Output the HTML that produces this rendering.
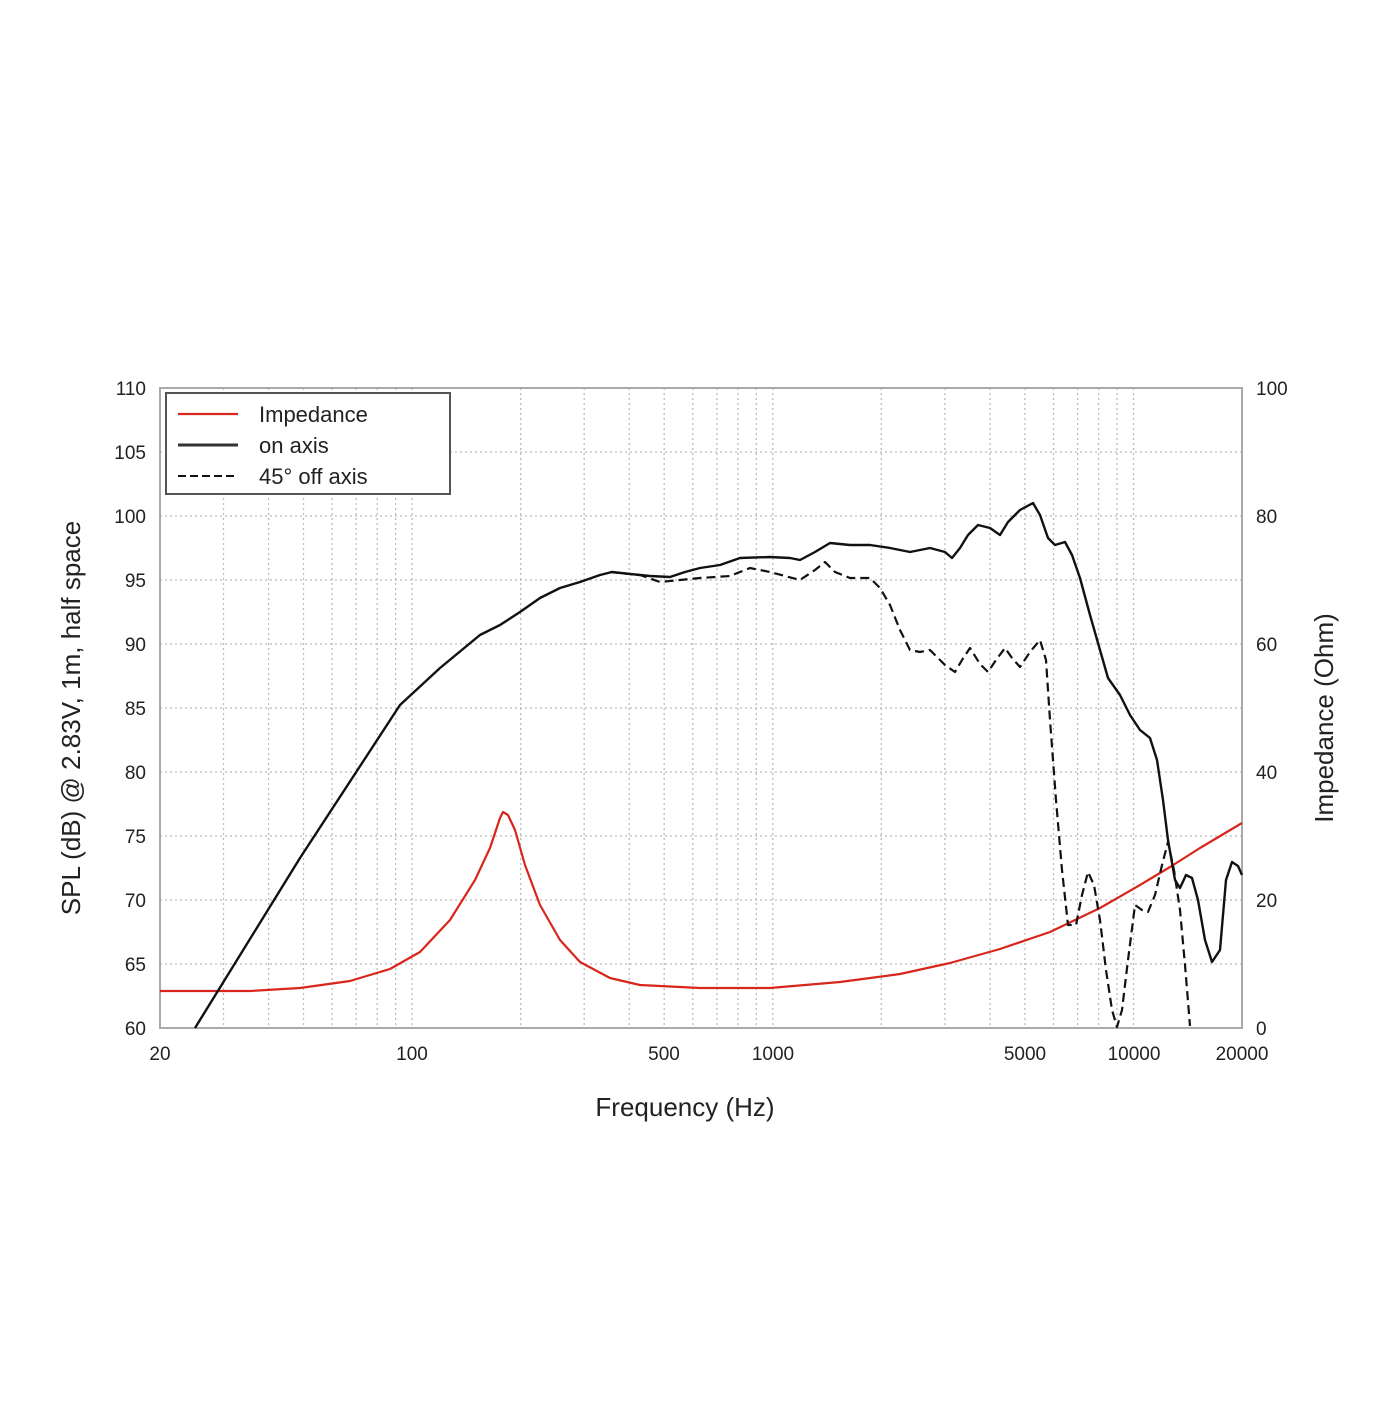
<!DOCTYPE html>
<html><head><style>
body{margin:0;background:#fff;}
svg text{font-family:"Liberation Sans",sans-serif;}
</style></head><body>
<svg width="1400" height="1400" viewBox="0 0 1400 1400" xmlns="http://www.w3.org/2000/svg">
<rect width="1400" height="1400" fill="#fff"/>
<g stroke="#bbb" stroke-width="1.3" stroke-dasharray="2,3" fill="none">
<line x1="160" y1="452" x2="1242" y2="452"/><line x1="160" y1="516" x2="1242" y2="516"/>
<line x1="160" y1="580" x2="1242" y2="580"/><line x1="160" y1="644" x2="1242" y2="644"/>
<line x1="160" y1="708" x2="1242" y2="708"/><line x1="160" y1="772" x2="1242" y2="772"/>
<line x1="160" y1="836" x2="1242" y2="836"/><line x1="160" y1="900" x2="1242" y2="900"/>
<line x1="160" y1="964" x2="1242" y2="964"/>
<line x1="223.5" y1="388" x2="223.5" y2="1028"/><line x1="268.6" y1="388" x2="268.6" y2="1028"/>
<line x1="303.5" y1="388" x2="303.5" y2="1028"/><line x1="332.1" y1="388" x2="332.1" y2="1028"/>
<line x1="356.2" y1="388" x2="356.2" y2="1028"/><line x1="377.2" y1="388" x2="377.2" y2="1028"/>
<line x1="395.6" y1="388" x2="395.6" y2="1028"/><line x1="412.1" y1="388" x2="412.1" y2="1028"/>
<line x1="520.7" y1="388" x2="520.7" y2="1028"/><line x1="584.2" y1="388" x2="584.2" y2="1028"/>
<line x1="629.3" y1="388" x2="629.3" y2="1028"/><line x1="664.2" y1="388" x2="664.2" y2="1028"/>
<line x1="692.8" y1="388" x2="692.8" y2="1028"/><line x1="716.9" y1="388" x2="716.9" y2="1028"/>
<line x1="737.9" y1="388" x2="737.9" y2="1028"/><line x1="756.3" y1="388" x2="756.3" y2="1028"/>
<line x1="772.8" y1="388" x2="772.8" y2="1028"/><line x1="881.3" y1="388" x2="881.3" y2="1028"/>
<line x1="944.9" y1="388" x2="944.9" y2="1028"/><line x1="990" y1="388" x2="990" y2="1028"/>
<line x1="1024.9" y1="388" x2="1024.9" y2="1028"/><line x1="1053.5" y1="388" x2="1053.5" y2="1028"/>
<line x1="1077.6" y1="388" x2="1077.6" y2="1028"/><line x1="1098.6" y1="388" x2="1098.6" y2="1028"/>
<line x1="1117" y1="388" x2="1117" y2="1028"/><line x1="1133.5" y1="388" x2="1133.5" y2="1028"/>
</g>
<rect x="160" y="388" width="1082" height="640" fill="none" stroke="#aaa" stroke-width="2"/>
<g font-size="19" fill="#222" text-anchor="end">
<text x="146" y="395">110</text><text x="146" y="459">105</text><text x="146" y="523">100</text>
<text x="146" y="587">95</text><text x="146" y="651">90</text><text x="146" y="715">85</text>
<text x="146" y="779">80</text><text x="146" y="843">75</text><text x="146" y="907">70</text>
<text x="146" y="971">65</text><text x="146" y="1035">60</text>
</g>
<g font-size="19" fill="#222">
<text x="1256" y="395">100</text><text x="1256" y="523">80</text><text x="1256" y="651">60</text>
<text x="1256" y="779">40</text><text x="1256" y="907">20</text><text x="1256" y="1035">0</text>
</g>
<g font-size="19" fill="#222" text-anchor="middle">
<text x="160" y="1060">20</text><text x="412" y="1060">100</text><text x="664" y="1060">500</text>
<text x="773" y="1060">1000</text><text x="1025" y="1060">5000</text><text x="1134" y="1060">10000</text>
<text x="1242" y="1060">20000</text>
</g>
<text x="685" y="1116" font-size="26" text-anchor="middle" fill="#222">Frequency (Hz)</text>
<text transform="translate(80,718) rotate(-90)" font-size="26" text-anchor="middle" fill="#222">SPL (dB) @ 2.83V, 1m, half space</text>
<text transform="translate(1333,718) rotate(-90)" font-size="26" text-anchor="middle" fill="#222">Impedance (Ohm)</text>
<polyline fill="none" stroke="#d8261c" stroke-width="2.2" stroke-linejoin="round" points="160,991 250,991 300,988 350,981 390,969 420,952 450,920 475,880 490,848 500,818 503,812 508,815 515,830 525,865 540,905 560,940 580,962 610,978 640,985 700,988 770,988 840,982 900,974 950,963 1000,949 1050,932 1100,908 1140,885 1170,867 1200,848 1242,823"/>
<polyline fill="none" stroke="#111" stroke-width="2.2" stroke-dasharray="9,5" stroke-linejoin="round" points="610,572 640,575 660,582 700,578 730,576 750,568 770,572 800,580 815,570 825,562 835,572 850,578 870,578 880,588 890,605 900,630 910,650 920,652 930,650 945,665 955,672 962,660 970,648 980,664 988,672 996,660 1005,648 1012,658 1020,667 1030,652 1040,640 1046,660 1050,720 1056,800 1062,870 1068,925 1076,925 1082,895 1088,872 1094,885 1100,920 1106,970 1112,1010 1117,1027 1122,1010 1128,960 1135,905 1142,910 1148,912 1155,895 1162,865 1168,842 1174,870 1180,910 1185,965 1190,1026"/>
<polyline fill="none" stroke="#111" stroke-width="2.4" stroke-linejoin="round" points="195,1028 300,858 400,705 440,668 480,635 500,625 520,612 540,598 560,588 580,582 600,575 612,572 630,574 650,576 670,577 685,572 700,568 720,565 740,558 770,557 790,558 800,560 815,552 830,543 850,545 870,545 890,548 910,552 930,548 945,552 952,558 960,548 968,535 978,525 990,528 1000,535 1008,522 1020,510 1033,503 1040,515 1048,538 1055,545 1065,542 1072,555 1080,578 1090,615 1100,650 1108,678 1120,695 1130,715 1140,730 1150,738 1157,760 1163,800 1168,840 1175,880 1180,888 1186,875 1192,878 1198,900 1205,940 1212,962 1220,950 1226,880 1232,862 1238,866 1242,875"/>
<rect x="166" y="393" width="284" height="101" fill="#fff" stroke="#555" stroke-width="2"/>
<line x1="178" y1="414" x2="238" y2="414" stroke="#d8261c" stroke-width="2.2"/>
<line x1="178" y1="445" x2="238" y2="445" stroke="#333" stroke-width="3"/>
<line x1="178" y1="476" x2="238" y2="476" stroke="#111" stroke-width="2" stroke-dasharray="8,4"/>
<g font-size="22" fill="#222">
<text x="259" y="422">Impedance</text><text x="259" y="453">on axis</text><text x="259" y="484">45° off axis</text>
</g>
</svg>
</body></html>
